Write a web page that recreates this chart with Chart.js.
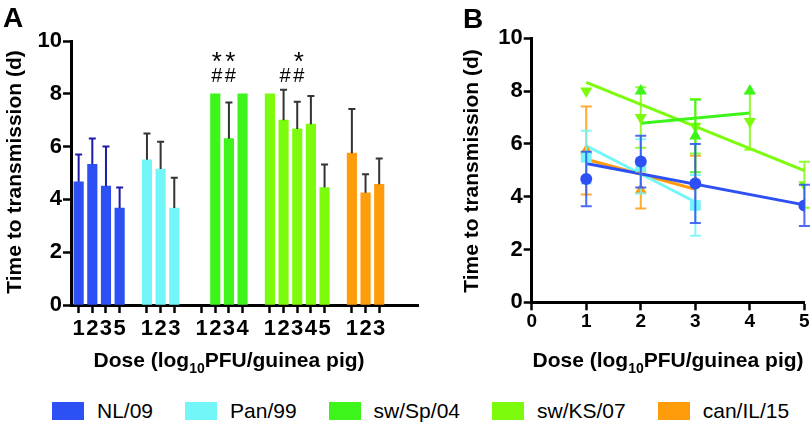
<!DOCTYPE html>
<html><head><meta charset="utf-8">
<script src="https://cdn.jsdelivr.net/npm/chart.js@4.4.1/dist/chart.umd.min.js"></script>
<style>
html,body{margin:0;padding:0;background:#fff;}
body{width:812px;height:426px;position:relative;overflow:hidden;font-family:'Liberation Sans',Arial,Helvetica,sans-serif;}
#cA{position:absolute;left:0;top:0;}
#cB{position:absolute;left:440px;top:0;}
.panel{position:absolute;font-weight:bold;font-size:28px;line-height:28px;color:#000;}
#legend{position:absolute;left:52px;top:399px;display:flex;align-items:center;height:24px;}
.item{display:flex;align-items:center;margin-right:32px;}
.sw{width:32px;height:18px;margin-right:13px;}
.lab{font-size:21px;line-height:24px;color:#000;}
</style></head>
<body>
<canvas id="cA" width="430" height="375"></canvas>
<canvas id="cB" width="372" height="375"></canvas>
<div class="panel" style="left:3px;top:4px;">A</div>
<div class="panel" style="left:463px;top:5px;">B</div>
<div id="legend"></div>
<script>
// ---- data ----
const strains = ['NL/09', 'Pan/99', 'sw/Sp/04', 'sw/KS/07', 'can/IL/15'];

const nlDoses  = [1, 2, 3, 5];
const nlMeans  = [4.67, 5.33, 4.50, 3.67];
const nlSD     = [1.03, 0.98, 1.50, 0.78];

const panDoses = [1, 2, 3];
const panMeans = [5.50, 5.15, 3.67];
const panSD    = [1.00, 1.03, 1.15];

const spDoses  = [1, 2, 3, 4];
const spMeans  = [null, 8.00, 6.30, 8.00];
const spSD     = [0, 0, 1.37, 0];

const ksDoses  = [1, 2, 3, 4, 5];
const ksMeans  = [8.00, 7.00, 6.67, 6.85, 4.45];
const ksSD     = [0, 1.15, 1.03, 1.07, 0.87];

const canDoses = [1, 2, 3];
const canMeans = [5.75, 4.25, 4.57];
const canSD    = [1.67, 0.70, 0.98];

// regression line end points (panel B)
const nlFitX  = [1, 5];  const nlFitY  = [5.26, 3.69];
const panFitX = [1, 3];  const panFitY = [5.93, 3.80];
const spFitX  = [2, 4];  const spFitY  = [6.78, 7.17];
const ksFitX  = [1, 5];  const ksFitY  = [8.33, 4.99];
const canFitX = [1, 3];  const canFitY = [5.42, 4.28];

// significance marks (panel A)
const spStar = [false, true, true, false];
const spHash = [false, true, true, false];
const ksStar = [false, false, true, false, false];
const ksHash = [false, true, true, false, false];

const yTicks = [0, 2, 4, 6, 8, 10];
const xTicksB = [0, 1, 2, 3, 4, 5];
const yTitle = 'Time to transmission (d)';
const xTitleParts = ['Dose (log', '10', 'PFU/guinea pig)'];

// ---- styles ----
const FAM = "'Liberation Sans', Arial, Helvetica, sans-serif";
const colors = ['#2c50f4', '#72f6f8', '#3df51b', '#7cfc0c', '#ff9c0c'];
const errColorsA = ['#1c1ca8', '#333333', '#333333', '#333333', '#333333'];
const errColorsB = ['rgba(44,80,244,0.85)', 'rgba(114,246,248,0.85)', 'rgba(61,245,27,0.85)', 'rgba(124,252,12,0.85)', 'rgba(255,156,12,0.85)'];
const pointStyles = ['circle', 'rect', 'triangle', 'triangle', 'triangle'];
const pointRot = [0, 0, 0, 180, 0];
const pointRad = [6, 7.6, 7, 7, 7];

Chart.defaults.font.family = FAM;
Chart.defaults.color = '#000';
Chart.defaults.animation = false;

const groups = [
  {doses: nlDoses, means: nlMeans, sd: nlSD, fx: nlFitX, fy: nlFitY},
  {doses: panDoses, means: panMeans, sd: panSD, fx: panFitX, fy: panFitY},
  {doses: spDoses, means: spMeans, sd: spSD, fx: spFitX, fy: spFitY, star: spStar, hash: spHash},
  {doses: ksDoses, means: ksMeans, sd: ksSD, fx: ksFitX, fy: ksFitY, star: ksStar, hash: ksHash},
  {doses: canDoses, means: canMeans, sd: canSD, fx: canFitX, fy: canFitY}
];
// slot index on panel A's axis: one empty slot between strains
let slot = 0;
const slotLabel = {};
const allSlots = [];
groups.forEach(g => {
  g.slots = g.doses.map((d, j) => slot + j);
  g.slots.forEach((s, j) => { slotLabel[s] = String(g.doses[j]); allSlots.push(s); });
  slot += g.doses.length + 1;
});

// ---- legend ----
const leg = document.getElementById('legend');
strains.forEach((s, i) => {
  const it = document.createElement('div'); it.className = 'item';
  const sw = document.createElement('div'); sw.className = 'sw'; sw.style.background = colors[i];
  const lb = document.createElement('div'); lb.className = 'lab'; lb.textContent = s;
  it.appendChild(sw); it.appendChild(lb); leg.appendChild(it);
});

// ---- plugins ----
const titlePlugin = {
  id: 'axisTitles',
  afterDraw(chart, args, o) {
    const ctx = chart.ctx;
    ctx.save();
    ctx.fillStyle = '#000';
    ctx.font = `bold ${o.size}px ${FAM}`;
    ctx.translate(o.yx, o.yy); ctx.rotate(-Math.PI / 2);
    ctx.textAlign = 'center'; ctx.textBaseline = 'middle';
    ctx.fillText(yTitle, 0, 0);
    ctx.restore();
    ctx.save();
    ctx.fillStyle = '#000';
    ctx.textBaseline = 'alphabetic'; ctx.textAlign = 'left';
    const big = `bold ${o.size}px ${FAM}`, small = `bold ${Math.round(o.size * 0.66)}px ${FAM}`;
    ctx.font = big; const w1 = ctx.measureText(xTitleParts[0]).width, w3 = ctx.measureText(xTitleParts[2]).width;
    ctx.font = small; const w2 = ctx.measureText(xTitleParts[1]).width;
    let x0 = o.xx - (w1 + w2 + w3) / 2;
    ctx.font = big; ctx.fillText(xTitleParts[0], x0, o.xy);
    ctx.font = small; ctx.fillText(xTitleParts[1], x0 + w1, o.xy + o.size * 0.3);
    ctx.font = big; ctx.fillText(xTitleParts[2], x0 + w1 + w2, o.xy);
    ctx.restore();
  }
};

const barErrPlugin = {
  id: 'barErr',
  afterDatasetsDraw(chart) {
    const {ctx, scales: {x, y}} = chart;
    ctx.save();
    groups.forEach((g, gi) => {
      g.means.forEach((m, j) => {
        if (m == null || !g.sd[j]) return;
        const px = x.getPixelForValue(g.slots[j]);
        const top = y.getPixelForValue(m + g.sd[j]);
        const base = y.getPixelForValue(m);
        ctx.strokeStyle = errColorsA[gi]; ctx.lineWidth = 2;
        ctx.beginPath();
        ctx.moveTo(px, base); ctx.lineTo(px, top);
        ctx.moveTo(px - 3.5, top); ctx.lineTo(px + 3.5, top);
        ctx.stroke();
      });
      if (g.hash) {
        ctx.fillStyle = '#000'; ctx.textAlign = 'center'; ctx.textBaseline = 'alphabetic';
        g.slots.forEach((s, j) => {
          const px = x.getPixelForValue(s) + 1.5;
          if (g.hash[j]) { ctx.font = `20px ${FAM}`; ctx.fillText('#', px, y.getPixelForValue(8.45)); }
          if (g.star[j]) { ctx.font = `26px ${FAM}`; ctx.fillText('*', px, y.getPixelForValue(8.9)); }
        });
      }
    });
    ctx.restore();
  }
};

const ptErrPlugin = {
  id: 'ptErr',
  beforeDatasetDraw(chart, args) {
    const ds = chart.data.datasets[args.index];
    if (!ds.sd) return;
    const {ctx, scales: {x, y}} = chart;
    ctx.save();
    ctx.strokeStyle = ds.errColor; ctx.lineWidth = 2;
    ds.data.forEach((p, j) => {
      const s = ds.sd[j];
      if (!s) return;
      const px = x.getPixelForValue(p.x);
      const t = y.getPixelForValue(p.y + s), b = y.getPixelForValue(p.y - s);
      ctx.beginPath();
      ctx.moveTo(px, t); ctx.lineTo(px, b);
      ctx.moveTo(px - 5.5, t); ctx.lineTo(px + 5.5, t);
      ctx.moveTo(px - 5.5, b); ctx.lineTo(px + 5.5, b);
      ctx.stroke();
    });
    ctx.restore();
  }
};

const xTickFontA = {size: 22, weight: 'bold', family: FAM};
const xTickFontB = {size: 19, weight: 'bold', family: FAM};
const yTickFont = {size: 22, weight: 'bold', family: FAM};
function yAxis(width) {
  return {
    min: 0, max: 10,
    afterBuildTicks: s => { s.ticks = yTicks.map(v => ({value: v})); },
    ticks: {font: yTickFont, color: '#000', padding: 1},
    grid: {drawOnChartArea: false, drawTicks: true, tickLength: 8, tickWidth: 2.5, tickColor: '#000'},
    border: {display: true, color: '#000', width: 3},
    afterFit: s => { s.width = width; }
  };
}

// ---- panel A ----
new Chart(document.getElementById('cA'), {
  type: 'bar',
  data: {
    datasets: groups.map((g, i) => ({
      label: strains[i],
      data: g.slots.map((s, j) => ({x: s, y: g.means[j]})),
      backgroundColor: colors[i],
      barThickness: 9.5,
      grouped: false
    }))
  },
  options: {
    responsive: false,
    animation: false,
    layout: {padding: {top: 41, right: 12, bottom: 0, left: 0}},
    plugins: {
      legend: {display: false}, tooltip: {enabled: false},
      axisTitles: {size: 21, yx: 15, yy: 172, xx: 229, xy: 367}
    },
    scales: {
      x: {
        type: 'linear', min: -0.56, max: 24.84, offset: false,
        afterBuildTicks: s => { s.ticks = allSlots.map(v => ({value: v})); },
        ticks: {callback: v => slotLabel[v], font: xTickFontA, color: '#000', padding: 3, autoSkip: false, maxRotation: 0},
        grid: {offset: false, drawOnChartArea: false, drawTicks: true, tickLength: 8, tickWidth: 2.5, tickColor: '#000'},
        border: {display: true, color: '#000', width: 3},
        afterFit: s => { s.height = 70; }
      },
      y: yAxis(71)
    }
  },
  plugins: [barErrPlugin, titlePlugin]
});

// ---- panel B ----
const markerSets = groups.map((g, i) => {
  const data = [], sd = [];
  g.doses.forEach((d, j) => { if (g.means[j] != null) { data.push({x: d, y: g.means[j]}); sd.push(g.sd[j]); } });
  return {
    type: 'scatter', label: strains[i], data, sd, errColor: errColorsB[i],
    pointStyle: pointStyles[i], rotation: pointRot[i], pointRadius: pointRad[i],
    backgroundColor: colors[i], borderColor: colors[i], borderWidth: 0,
    showLine: false, order: 0
  };
});
const fitSets = groups.map((g, i) => ({
  type: 'line', label: strains[i] + ' fit',
  data: g.fx.map((xv, j) => ({x: xv, y: g.fy[j]})),
  borderColor: colors[i], borderWidth: 3, pointRadius: 0, fill: false, showLine: true, order: 1
}));

new Chart(document.getElementById('cB'), {
  type: 'scatter',
  data: {datasets: [...markerSets, ...fitSets]},
  options: {
    responsive: false,
    animation: false,
    layout: {padding: {top: 38.3, right: 7, bottom: 0, left: 0}},
    plugins: {
      legend: {display: false}, tooltip: {enabled: false},
      axisTitles: {size: 21, yx: 32, yy: 171, xx: 228, xy: 367}
    },
    scales: {
      x: {
        type: 'linear', min: 0, max: 5,
        afterBuildTicks: s => { s.ticks = xTicksB.map(v => ({value: v})); },
        ticks: {font: xTickFontB, color: '#000', padding: 0},
        grid: {drawOnChartArea: false, drawTicks: true, tickLength: 8, tickWidth: 2.5, tickColor: '#000'},
        border: {display: true, color: '#000', width: 3},
        afterFit: s => { s.height = 72.7; }
      },
      y: yAxis(91.7)
    }
  },
  plugins: [ptErrPlugin, titlePlugin]
});
</script>
</body></html>
